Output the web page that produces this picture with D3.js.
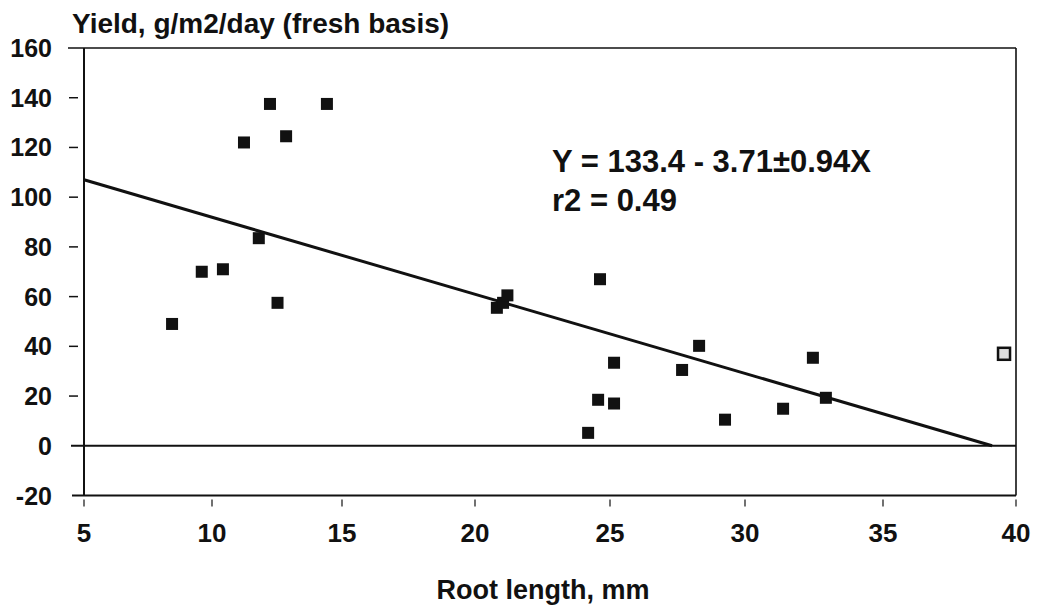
<!DOCTYPE html>
<html><head><meta charset="utf-8">
<script src="https://cdn.jsdelivr.net/npm/d3@7"></script>
<style>
html,body{margin:0;padding:0;background:#fff;}
text{font-family:"Liberation Sans",Arial,Helvetica,sans-serif;font-weight:bold;fill:#111;}
</style></head>
<body>
<svg id="chart" width="1037" height="611"></svg>
<script>
// Data
const rootLength = [8.44, 9.6, 10.42, 11.23, 12.23, 12.85, 14.42, 11.8, 12.52,
  20.81, 21.04, 21.2, 24.63, 25.15, 24.56, 25.15, 24.19, 27.67, 28.3, 29.26, 31.38, 32.46, 32.93, 39.55];
const yieldVals = [49, 70, 71, 122, 137.5, 124.5, 137.5, 83.5, 57.5,
  55.5, 57.5, 60.5, 67, 33.4, 18.5, 17, 5.2, 30.5, 40.2, 10.5, 14.9, 35.4, 19.3, 37];
const hollow = [false, false, false, false, false, false, false, false, false,
  false, false, false, false, false, false, false, false, false, false, false, false, false, false, true];
const regX = [5, 39.1];
const regY = [107, 0];
const xTicks = [5, 10, 15, 20, 25, 30, 35, 40];
const yTicks = [-20, 0, 20, 40, 60, 80, 100, 120, 140, 160];
const titleText = "Yield, g/m2/day (fresh basis)";
const xTitle = "Root length, mm";
const eqLines = ["Y = 133.4 - 3.71\u00B10.94X", "r2 = 0.49"];

const svg = d3.select("#chart");
// the scanned original is slightly stretched toward the right; follow its tick positions
const x = d3.scaleLinear().domain(xTicks).range([84, 212, 342, 475, 610, 745, 883, 1016]);
const y = d3.scaleLinear().domain([-20, 160]).range([495.5, 48]);

// frame lines
const g = svg.append("g").attr("stroke", "#111").attr("fill", "none");
g.append("line").attr("x1", 68).attr("x2", x(40)).attr("y1", y(160)).attr("y2", y(160)).attr("stroke-width", 1.6);
g.append("line").attr("x1", x(5)).attr("x2", x(5)).attr("y1", y(160)).attr("y2", y(-20)).attr("stroke-width", 2);
g.append("line").attr("x1", x(40)).attr("x2", x(40)).attr("y1", y(160)).attr("y2", y(-20)).attr("stroke-width", 1.6);
g.append("line").attr("x1", 71).attr("x2", x(40)).attr("y1", y(0)).attr("y2", y(0)).attr("stroke-width", 2);
g.append("line").attr("x1", 72).attr("x2", x(40)).attr("y1", y(-20)).attr("y2", y(-20)).attr("stroke-width", 2);

// y ticks
g.selectAll(".yt").data(yTicks.filter(d => d > 0 && d < 160)).enter().append("line")
  .attr("x1", 69).attr("x2", 78).attr("y1", d => y(d)).attr("y2", d => y(d)).attr("stroke-width", 1.5);
// x ticks
g.selectAll(".xt").data(xTicks).enter().append("line")
  .attr("x1", d => x(d)).attr("x2", d => x(d)).attr("y1", y(-20) + 4).attr("y2", y(-20) + 11).attr("stroke-width", 1.2);

// y labels
svg.selectAll(".yl").data(yTicks).enter().append("text")
  .attr("x", 52).attr("y", d => y(d)).attr("dy", "0.36em").attr("text-anchor", "end")
  .attr("font-size", 25).text(d => d);
// x labels
svg.selectAll(".xl").data(xTicks).enter().append("text")
  .attr("x", d => x(d)).attr("y", 542).attr("text-anchor", "middle")
  .attr("font-size", 26).text(d => d);

// titles
svg.append("text").attr("x", 72).attr("y", 33).attr("font-size", 28).text(titleText);
svg.append("text").attr("x", 543).attr("y", 599).attr("text-anchor", "middle").attr("font-size", 27).text(xTitle);
svg.selectAll(".eq").data(eqLines).enter().append("text")
  .attr("x", 552).attr("y", (d, i) => 172 + i * 39).attr("font-size", 31).text(d => d);

// regression line
svg.append("line").attr("x1", x(regX[0])).attr("y1", y(regY[0])).attr("x2", x(regX[1])).attr("y2", y(regY[1]))
  .attr("stroke", "#111").attr("stroke-width", 3);

// points
const s = 12;
svg.selectAll(".pt").data(rootLength.map((d, i) => [d, yieldVals[i], hollow[i]])).enter().append("rect")
  .attr("x", d => x(d[0]) - s / 2).attr("y", d => y(d[1]) - s / 2)
  .attr("width", s).attr("height", s)
  .attr("fill", d => d[2] ? "#ddd" : "#111")
  .attr("stroke", "#111").attr("stroke-width", d => d[2] ? 2.5 : 0);
</script>
</body></html>
